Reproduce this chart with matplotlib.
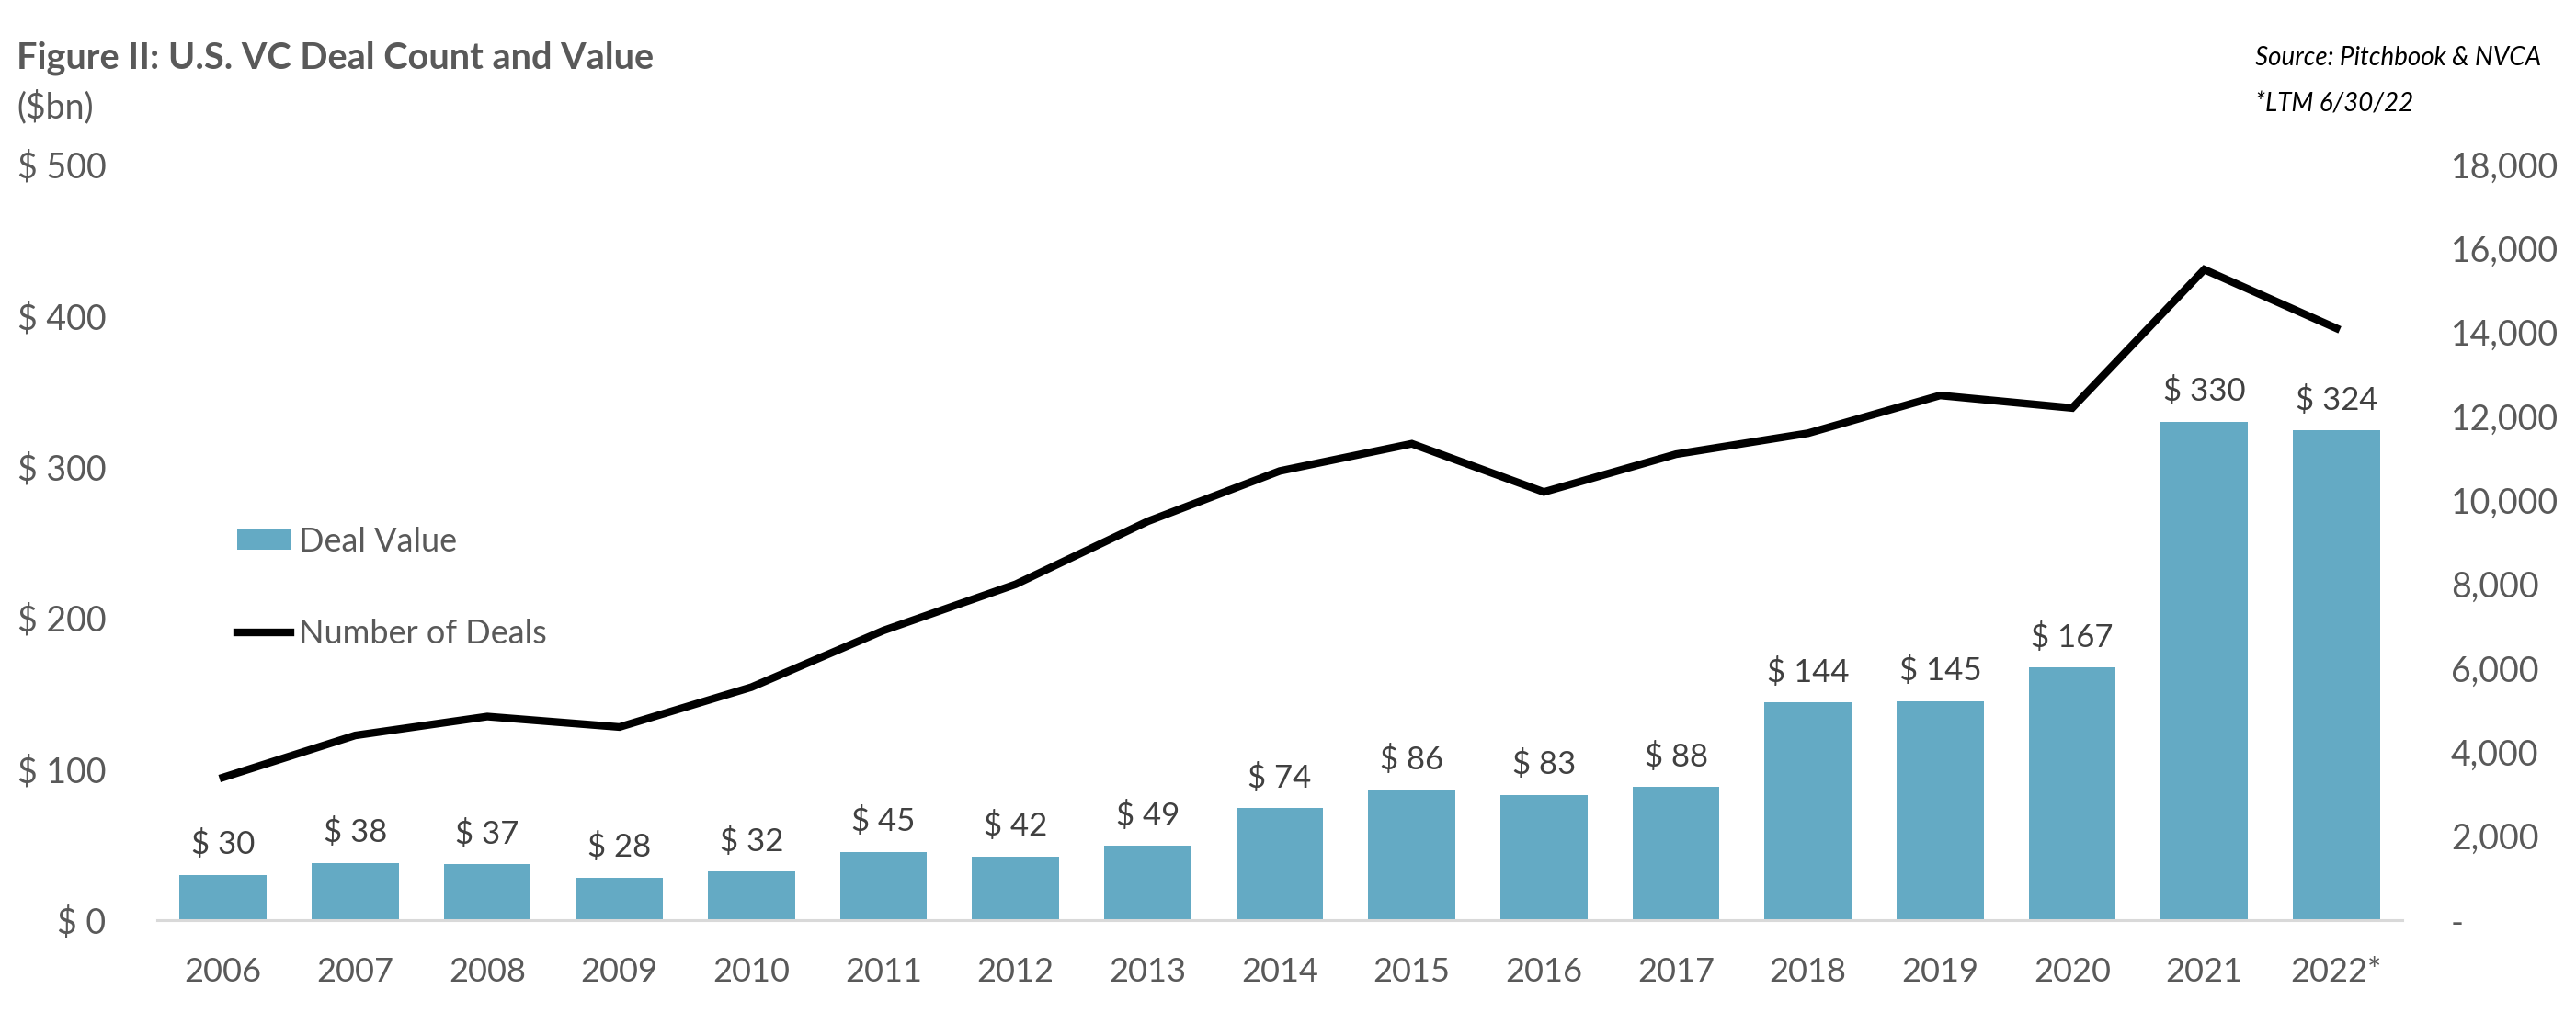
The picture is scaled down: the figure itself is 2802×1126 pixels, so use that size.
import numpy as np
import matplotlib
matplotlib.use("Agg")
import matplotlib.pyplot as plt
from matplotlib.patches import Patch
from matplotlib.lines import Line2D

plt.rcParams['font.family'] = ['Lato', 'DejaVu Sans']

years = ["2006", "2007", "2008", "2009", "2010", "2011", "2012", "2013", "2014",
         "2015", "2016", "2017", "2018", "2019", "2020", "2021", "2022*"]
deal_value = [30, 38, 37, 28, 32, 45, 42, 49, 74, 86, 83, 88, 144, 145, 167, 330, 324]
deal_count = [3400, 4400, 4850, 4600, 5550, 6900, 8000, 9500, 10700, 11350,
              10200, 11100, 11600, 12500, 12200, 15500, 14100]
left_ticks = [0, 100, 200, 300, 400, 500]
right_ticks = [0, 2000, 4000, 6000, 8000, 10000, 12000, 14000, 16000, 18000]

bar_color = "#64aac4"
gray = "#595959"

fig = plt.figure(figsize=(28.02, 11.26), dpi=100)
ax = fig.add_axes([0.061, 0.111, 0.8716, 0.730])
ax2 = ax.twinx()

x = np.arange(len(years))
bars = ax.bar(x, deal_value, width=0.66, color=bar_color, zorder=2)
for xi, v in zip(x, deal_value):
    ax.annotate(f"$ {v}", (xi, v), xytext=(0, 12), textcoords="offset points",
                ha="center", va="bottom", fontsize=25, color="#404040")

ax2.plot(x, deal_count, color="black", lw=6, solid_joinstyle="miter", zorder=3)

ax.set_xlim(-0.5, len(years) - 0.5)
ax.set_ylim(0, 500)
ax2.set_ylim(0, 18000)

ax.set_xticks(x)
ax.set_xticklabels(years)
ax.set_yticks(left_ticks)
ax.set_yticklabels([f"$ {t}" for t in left_ticks])
ax2.set_yticks(right_ticks)
ax2.set_yticklabels(["-"] + [f"{t:,}" for t in right_ticks[1:]], ha="left")

ax.tick_params(axis="x", length=0, pad=29, labelsize=26, labelcolor=gray)
ax.tick_params(axis="y", length=0, pad=40, labelsize=27, labelcolor=gray)
ax2.tick_params(axis="y", length=0, pad=38, labelsize=27, labelcolor=gray)

for a in (ax, ax2):
    for s in ["top", "left", "right", "bottom"]:
        a.spines[s].set_visible(False)
ax.spines["bottom"].set_visible(True)
ax.spines["bottom"].set_color("#d9d9d9")
ax.spines["bottom"].set_linewidth(2.2)

handles = [Patch(facecolor=bar_color), Line2D([0], [0], color="black", lw=6)]
leg = ax2.legend(handles, ["Deal Value", "Number of Deals"], loc="upper left",
                 bbox_to_anchor=(0.092, 0.491), bbox_transform=fig.transFigure,
                 frameon=False, fontsize=26, handlelength=1.6, handleheight=0.55,
                 handletextpad=0.25, labelspacing=1.85, borderpad=0, borderaxespad=0)
for t in leg.get_texts():
    t.set_color(gray)

fig.text(0.0064, 0.944, "Figure II: U.S. VC Deal Count and Value", fontsize=28.5,
         fontweight="bold", color=gray, va="center", ha="left")
fig.text(0.0064, 0.897, "($bn)", fontsize=27, color=gray, va="center", ha="left")
fig.text(0.8754, 0.944, "Source: Pitchbook & NVCA", fontsize=20, style="italic",
         color="black", va="center", ha="left")
fig.text(0.8754, 0.899, "*LTM 6/30/22", fontsize=20, style="italic",
         color="black", va="center", ha="left")

plt.savefig("out.png", dpi=100)
